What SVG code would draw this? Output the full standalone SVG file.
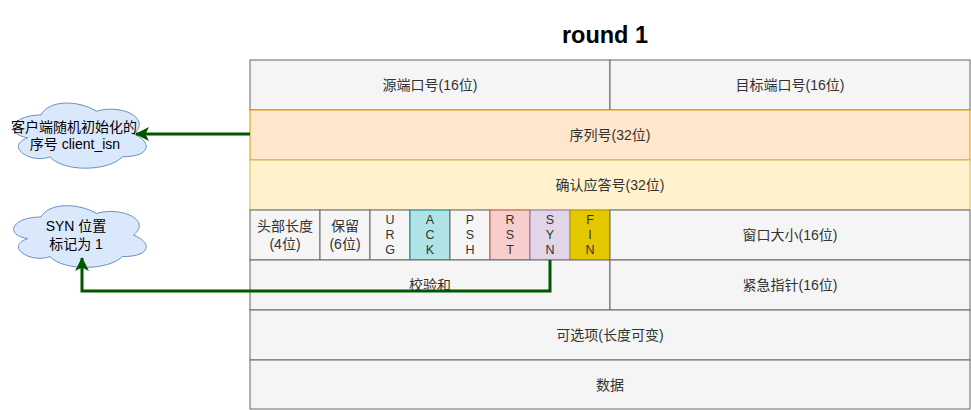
<svg xmlns="http://www.w3.org/2000/svg" width="971" height="410" viewBox="0 0 971 410">
<style>
text{font-family:"Liberation Sans","Noto Sans CJK SC",Arial,sans-serif;font-size:14px;text-anchor:middle;dominant-baseline:central}
.f text{font-size:12.5px}
.g rect{fill:#f5f5f5;stroke:#666666}
.g text{fill:#333333}
.c path{fill:#dae8fc;stroke:#6c8ebf}
.c text{fill:#000}
.edge{fill:none;stroke:#005700;stroke-width:3}
</style>
<defs>
<marker id="ah" markerUnits="userSpaceOnUse" viewBox="0 0 14 14" refX="13" refY="7" markerWidth="14" markerHeight="14" orient="auto">
<path d="M0,0 L14,7 L0,14 L3.5,7 Z" fill="#005700"/>
</marker>
</defs>
<text x="605" y="35" style="font-size:23.5px;font-weight:bold;fill:#000">round 1</text>

<g id="srcport" class="g"><rect x="250" y="60" width="360" height="50"/><text x="430" y="85">源端口号(16位)</text></g>
<g id="dstport" class="g"><rect x="610" y="60" width="360" height="50"/><text x="790" y="85">目标端口号(16位)</text></g>
<g id="seq"><rect x="250" y="110" width="720" height="50" fill="#ffe6cc" stroke="#d79b00"/><text x="610" y="135" fill="#333">序列号(32位)</text></g>
<g id="ack"><rect x="250" y="160" width="720" height="50" fill="#fff2cc" stroke="#d6b656"/><text x="610" y="185" fill="#333">确认应答号(32位)</text></g>
<g id="hlen" class="g"><rect x="250" y="210" width="70" height="50"/><text x="285" y="226">头部长度</text><text x="285" y="244">(4位)</text></g>
<g id="rsv" class="g"><rect x="320" y="210" width="50" height="50"/><text x="345" y="226">保留</text><text x="345" y="244">(6位)</text></g>
<g id="urg" class="g f"><rect x="370" y="210" width="40" height="50"/><text x="390" y="220">U</text><text x="390" y="235">R</text><text x="390" y="250">G</text></g>
<g id="ackf" class="f"><rect x="410" y="210" width="40" height="50" fill="#b0e3e6" stroke="#0e8088"/><text x="430" y="220" fill="#333">A</text><text x="430" y="235" fill="#333">C</text><text x="430" y="250" fill="#333">K</text></g>
<g id="psh" class="g f"><rect x="450" y="210" width="40" height="50"/><text x="470" y="220">P</text><text x="470" y="235">S</text><text x="470" y="250">H</text></g>
<g id="rst" class="f"><rect x="490" y="210" width="40" height="50" fill="#f8cecc" stroke="#b85450"/><text x="510" y="220" fill="#333">R</text><text x="510" y="235" fill="#333">S</text><text x="510" y="250" fill="#333">T</text></g>
<g id="syn" class="f"><rect x="530" y="210" width="40" height="50" fill="#e1d5e7" stroke="#9673a6"/><text x="550" y="220" fill="#333">S</text><text x="550" y="235" fill="#333">Y</text><text x="550" y="250" fill="#333">N</text></g>
<g id="fin" class="f"><rect x="570" y="210" width="40" height="50" fill="#e3c800" stroke="#b09500"/><text x="590" y="220" fill="#333">F</text><text x="590" y="235" fill="#333">I</text><text x="590" y="250" fill="#333">N</text></g>
<g id="win" class="g"><rect x="610" y="210" width="360" height="50"/><text x="790" y="235">窗口大小(16位)</text></g>
<g id="chk" class="g"><rect x="250" y="260" width="360" height="50"/><text x="430" y="285">校验和</text></g>
<g id="urgp" class="g"><rect x="610" y="260" width="360" height="50"/><text x="790" y="285">紧急指针(16位)</text></g>
<g id="opt" class="g"><rect x="250" y="310" width="720" height="50"/><text x="610" y="335">可选项(长度可变)</text></g>
<g id="data" class="g"><rect x="250" y="360" width="720" height="49"/><text x="610" y="385">数据</text></g>

<g id="cloud1" class="c">
<path d="M41,115 C11.4,115 4,134 27.7,137.8 C4,146.2 30.6,164.4 49.9,156.8 C63.2,172 107.6,172 122.4,156.8 C152,156.8 152,141.6 133.5,134 C152,118.8 122.4,103.6 96.5,111.2 C78,99.8 48.4,99.8 41,115 Z"/>
<text x="74" y="127">客户端随机初始化的</text><text x="75" y="144">序号 client_isn</text>
</g>
<g id="cloud2" class="c">
<path d="M41,217 C11.4,217 4,235 27.7,238.6 C4,246.5 30.6,263.8 49.9,256.6 C63.2,271 107.6,271 122.4,256.6 C152,256.6 152,242.2 133.5,235 C152,220.6 122.4,206.2 96.5,213.4 C78,202.6 48.4,202.6 41,217 Z"/>
<text x="76" y="226">SYN 位置</text><text x="76" y="244">标记为 1</text>
</g>

<g id="connectors">
<path class="edge" d="M250,134 L136,134" marker-end="url(#ah)"/>
<path class="edge" d="M550,260 L550,291 L82,291 L82,258" marker-end="url(#ah)"/>
</g>
</svg>
